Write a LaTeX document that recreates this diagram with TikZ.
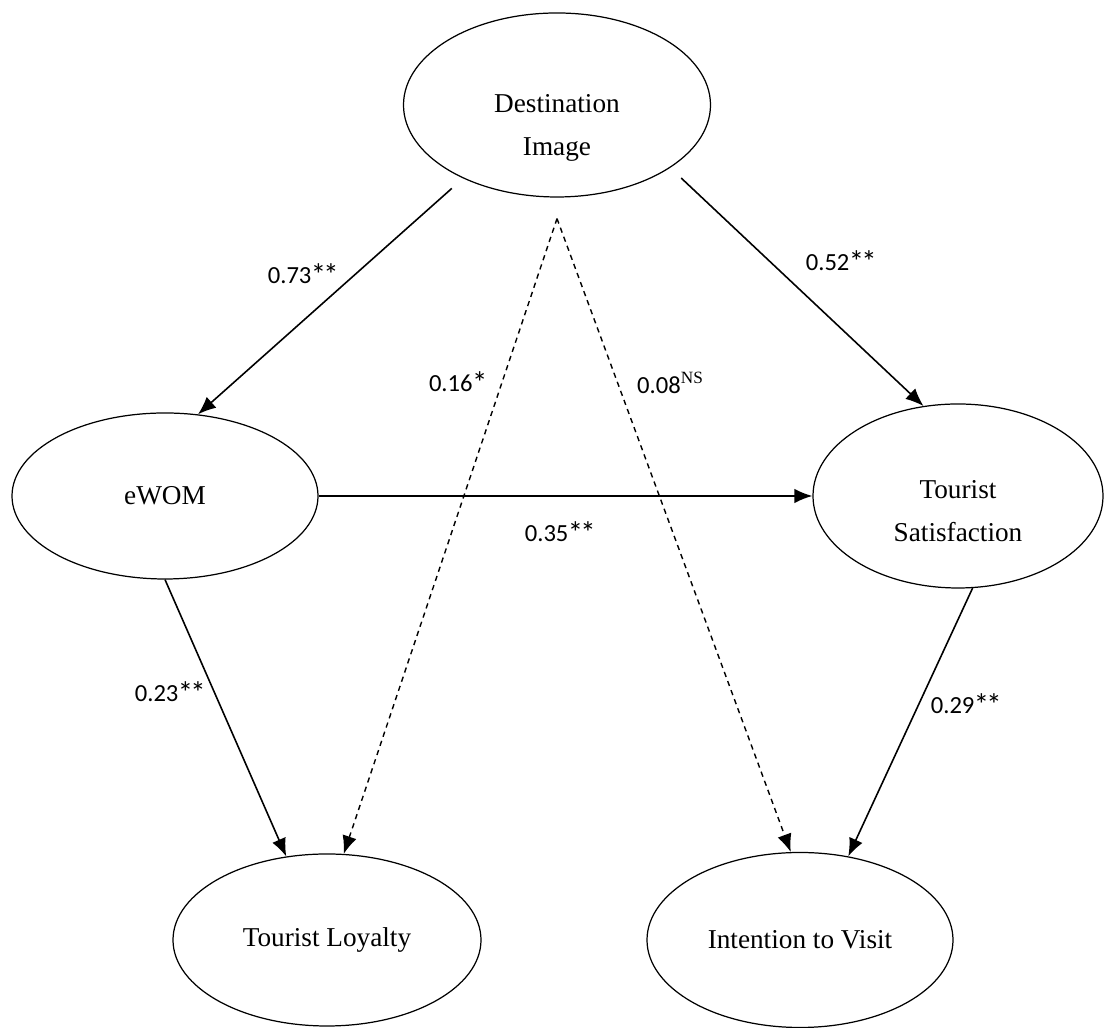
\documentclass[tikz,border=0pt]{standalone}
\usepackage{fontspec}
\setmainfont{Liberation Serif}
\newfontfamily\coeffont{Carlito}
\usetikzlibrary{arrows.meta,positioning,shapes.geometric,calc}
\newcommand\sigstar{\kern-0.02em\raisebox{-0.1em}{\fontsize{17.5}{17.5}\selectfont *}\kern-0.1em}

\begin{document}
\begin{tikzpicture}[
      every node/.style={on grid},
      construct/.style={draw,ellipse,line width=0.7pt,inner sep=0pt,align=center,
        font=\fontsize{15.5}{24.4}\selectfont},
      inner/.style={align=center,font=\fontsize{15.5}{24.4}\selectfont},
      coef/.style={font=\coeffont\fontsize{14}{16}\selectfont},
      effect/.style={->,line width=0.9pt},
      nseffect/.style={->,line width=0.8pt,dash pattern=on 3pt off 2.5pt},
      >={Latex[length=3.6mm,width=2.9mm]}
    ]

    \useasboundingbox (0,0) rectangle (22.16,20.56);

    % constructs
    \node[construct,minimum width=6.14cm,minimum height=3.68cm,
      label={[inner,yshift=-0.46cm]center:{Destination\\Image}}] (di) at (11.14,18.46) {};
    \node[construct,minimum width=6.12cm,minimum height=3.32cm,
      below left=7.82cm and 7.84cm of di] (ewom) {eWOM};
    \node[construct,minimum width=5.8cm,minimum height=3.68cm,
      right=15.86cm of ewom,
      label={[inner,yshift=-0.3cm]center:{Tourist\\Satisfaction}}] (ts) {};
    \node[construct,minimum width=6.16cm,minimum height=3.44cm,
      below right=8.88cm and 3.24cm of ewom] (tl) {Tourist Loyalty};
    \node[construct,minimum width=6.12cm,minimum height=3.5cm,
      right=9.46cm of tl] (iv) {Intention to Visit};
    \coordinate[below=0.42cm of di.south] (apex);

    % the arrows
    \draw[effect,shorten <=0.3cm] (di.218) -- (ewom.68);
    \draw[effect,shorten <=0.3cm] (di.331) -- (ts.111);
    \draw[effect] (ewom.east) -- (ts.west);
    \draw[effect] (ewom.south) -- (tl.116);
    \draw[effect] (ts.279) -- (iv.60);
    \draw[nseffect] (apex) -- (tl.79);
    \draw[nseffect] (apex) -- (iv.96);

    % path coefficients
    \node[coef] (c73) at (6.04,15.06) {0.73\sigstar\sigstar};
    \node[coef] (c52) at (16.80,15.32) {0.52\sigstar\sigstar};
    \node[coef] (c16) at (9.14,12.90) {0.16\sigstar};
    \node[coef,anchor=west] (c08) at (12.62,12.90) {0.08\textsuperscript{\rmfamily NS}};
    \node[coef] (c35) at (11.18,9.90) {0.35\sigstar\sigstar};
    \node[coef] (c23) at (3.38,6.70) {0.23\sigstar\sigstar};
    \node[coef] (c29) at (19.30,6.46) {0.29\sigstar\sigstar};
\end{tikzpicture}
\end{document}
